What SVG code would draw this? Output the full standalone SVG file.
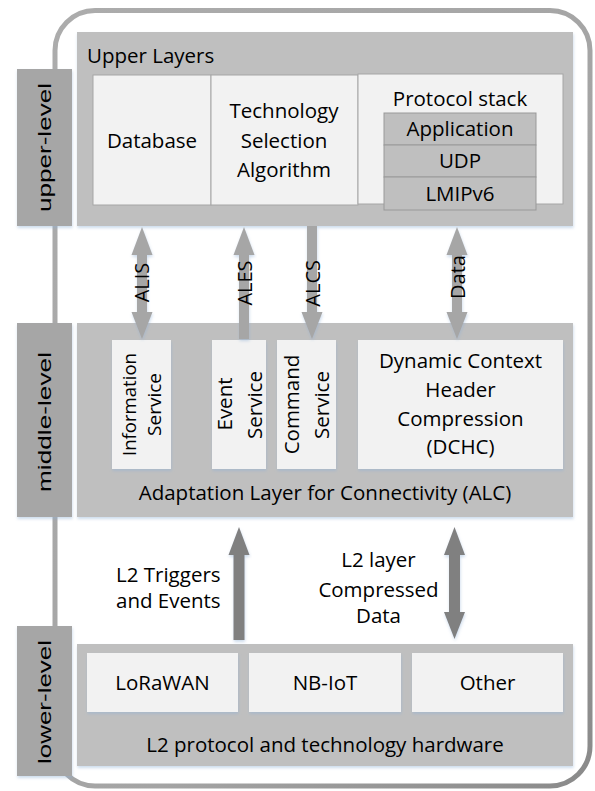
<svg xmlns="http://www.w3.org/2000/svg" width="595" height="791" viewBox="0 0 595 791">
<defs>
<linearGradient id="frameGrad" x1="0" y1="0" x2="1" y2="1">
<stop offset="0" stop-color="#acacac"/>
<stop offset="0.6" stop-color="#a4a4a4"/>
<stop offset="1" stop-color="#8a8a8a"/>
</linearGradient>
<filter id="sh" x="-10%" y="-10%" width="120%" height="125%">
<feDropShadow dx="0.5" dy="2" stdDeviation="1.8" flood-color="#8fb0d6" flood-opacity="0.45"/>
</filter>
<style>
.t{font-family:"Open Sans","Liberation Sans",sans-serif;font-size:20.5px;fill:#000;}
.c{text-anchor:middle;}
.lv{font-family:"Liberation Sans",Arial,sans-serif;font-size:17.5px;fill:#000;text-anchor:middle;}
.big{fill:#bfbfbf;filter:url(#sh);}
.lvb{fill:#a6a6a6;filter:url(#sh);}
.wb{fill:#f2f2f2;filter:url(#sh);}
.wbs{fill:#f2f2f2;stroke:#a6a6a6;stroke-width:1;}
.stk{fill:#bfbfbf;stroke:#999999;stroke-width:1;}
.al{fill:#a6a6a6;filter:url(#sh);}
.ad{fill:#808080;filter:url(#sh);}
</style>
</defs>
<rect width="595" height="791" fill="#ffffff"/>
<g id="frame">
<rect x="55" y="10.5" width="535" height="775.5" rx="40" ry="40" fill="none" stroke="url(#frameGrad)" stroke-width="5"/>
</g>
<g id="upper-level">
<rect class="lvb" x="17" y="69" width="55" height="157"/>
<text class="lv" transform="translate(50.5,147.5) rotate(-90)" textLength="129" lengthAdjust="spacingAndGlyphs">upper-level</text>
</g>
<g id="middle-level">
<rect class="lvb" x="17" y="323" width="55" height="194"/>
<text class="lv" transform="translate(51,422) rotate(-90)" textLength="140" lengthAdjust="spacingAndGlyphs">middle-level</text>
</g>
<g id="lower-level">
<rect class="lvb" x="17" y="626" width="55" height="150"/>
<text class="lv" transform="translate(50.5,702) rotate(-90)" textLength="124" lengthAdjust="spacingAndGlyphs">lower-level</text>
</g>
<g id="upper-layers">
<rect class="big" x="77" y="32" width="496" height="194"/>
<text class="t" x="87" y="63">Upper Layers</text>
</g>
<g id="database">
<rect class="wbs" x="93" y="75" width="118" height="130"/>
<text class="t c" x="152" y="148">Database</text>
</g>
<g id="tech-selection">
<rect class="wbs" x="211" y="75" width="147" height="130"/>
<text class="t c" x="284" y="118">Technology</text>
<text class="t c" x="284" y="147.5">Selection</text>
<text class="t c" x="284" y="177">Algorithm</text>
</g>
<g id="protocol-stack">
<rect class="wbs" x="358" y="74" width="205" height="130"/>
<text class="t c" x="460" y="106">Protocol stack</text>
<rect class="stk" x="384" y="113" width="152" height="32"/>
<text class="t c" x="460" y="136">Application</text>
<rect class="stk" x="384" y="145" width="152" height="32"/>
<text class="t c" x="460" y="168">UDP</text>
<rect class="stk" x="384" y="177" width="152" height="33"/>
<text class="t c" x="460" y="200.5">LMIPv6</text>
</g>
<g id="alc">
<rect class="big" x="77" y="323" width="496" height="194"/>
<text class="t c" x="325" y="500">Adaptation Layer for Connectivity (ALC)</text>
</g>
<g id="information-service">
<rect class="wb" x="112" y="340" width="59" height="129"/>
<text class="t c" style="font-size:19px" transform="translate(136,404.5) rotate(-90)" textLength="103" lengthAdjust="spacingAndGlyphs">Information</text>
<text class="t c" style="font-size:19px" transform="translate(161,404.5) rotate(-90)">Service</text>
</g>
<g id="event-service">
<rect class="wb" x="212" y="340" width="54" height="129"/>
<text class="t c" transform="translate(232,404) rotate(-90)">Event</text>
<text class="t c" transform="translate(262,405) rotate(-90)">Service</text>
</g>
<g id="command-service">
<rect class="wb" x="277" y="340" width="59" height="129"/>
<text class="t c" transform="translate(299,404.5) rotate(-90)">Command</text>
<text class="t c" transform="translate(329,405) rotate(-90)">Service</text>
</g>
<g id="dchc">
<rect class="wb" x="358" y="340" width="205" height="129"/>
<text class="t c" x="460.5" y="368">Dynamic Context</text>
<text class="t c" x="460.5" y="397">Header</text>
<text class="t c" x="460.5" y="426">Compression</text>
<text class="t c" x="460.5" y="454">(DCHC)</text>
</g>
<g id="l2-hardware">
<rect class="big" x="77" y="644" width="496" height="122"/>
<text class="t c" x="325" y="752">L2 protocol and technology hardware</text>
</g>
<g id="lorawan">
<rect class="wb" x="87" y="653" width="151" height="59"/>
<text class="t c" x="162.5" y="690">LoRaWAN</text>
</g>
<g id="nb-iot">
<rect class="wb" x="249" y="653" width="152" height="59"/>
<text class="t c" x="325" y="690">NB-IoT</text>
</g>
<g id="other">
<rect class="wb" x="412" y="653" width="151" height="59"/>
<text class="t c" x="487.5" y="690">Other</text>
</g>
<g id="connectors">
<polygon class="al" points="142,227 152.5,255 147,255 147,312 152.5,312 142,339 131.5,312 137,312 137,255 131.5,255"/>
<polygon class="al" points="244,227 254.5,255 249,255 249,339 239,339 239,255 233.5,255"/>
<polygon class="al" points="307,226 317,226 317,312 322.5,312 312,339 301.5,312 307,312"/>
<polygon class="al" points="457,227 467.5,255 462,255 462,312 467.5,312 457,339 446.5,312 452,312 452,255 446.5,255"/>
<polygon class="ad" points="239,527 249.5,555 244.5,555 244.5,640 233.5,640 233.5,555 228.5,555"/>
<polygon class="ad" points="454.5,527 465,555 460,555 460,612 465,612 454.5,639 444,612 449,612 449,555 444,555"/>
<text class="t c" style="font-size:20px" transform="translate(148.5,282.5) rotate(-90)">ALIS</text>
<text class="t c" style="font-size:20px" transform="translate(251.5,283) rotate(-90)">ALES</text>
<text class="t c" style="font-size:20px" transform="translate(320,283.3) rotate(-90)">ALCS</text>
<text class="t c" style="font-size:20px" transform="translate(465,277) rotate(-90)">Data</text>
<text class="t c" x="168.3" y="581.7">L2 Triggers</text>
<text class="t c" x="168.3" y="608">and Events</text>
<text class="t c" x="378.5" y="566.7">L2 layer</text>
<text class="t c" x="378.5" y="596.7">Compressed</text>
<text class="t c" x="378.5" y="623.3">Data</text>
</g>
</svg>
